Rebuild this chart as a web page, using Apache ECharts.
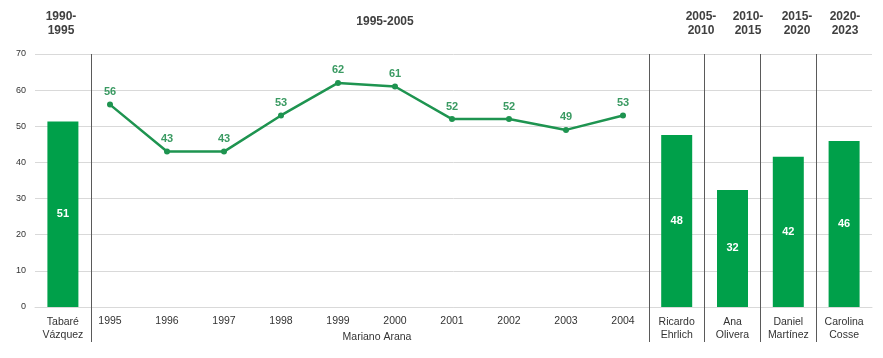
<!DOCTYPE html>
<html>
<head>
<meta charset="utf-8">
<script src="https://cdn.jsdelivr.net/npm/echarts@6/dist/echarts.min.js"></script>
<style>html,body{margin:0;padding:0;background:#fff}#c{width:883px;height:358px}</style>
</head>
<body>
<div id="c"></div>
<script>
// ---- data ----
const barCategories = ['Tabaré\nVázquez','1995','1996','1997','1998','1999','2000','2001','2002','2003','2004','Ricardo\nEhrlich','Ana\nOlivera','Daniel\nMartínez','Carolina\nCosse'];
const barValues = [51.3,'-','-','-','-','-','-','-','-','-','-',47.6,32.4,41.6,45.9];
const lineYears = ['1995','1996','1997','1998','1999','2000','2001','2002','2003','2004'];
const lineValues = [56,43,43,53,62,61,52,52,49,53];
const periodLabels = ['1990-\n1995','1995-2005','2005-\n2010','2010-\n2015','2015-\n2020','2020-\n2023'];
const middleName = 'Mariano Arana';
const yTicks = [0,10,20,30,40,50,60,70];

const FONT = '"Liberation Sans", Arial, sans-serif';
// separator axis covers all but the last bar slot; its closing boundary is the last separator
const sepCategories = barCategories.slice(0, barCategories.length - 1);
const sepIdx = [1,11,12,13];
const sepFn = (i) => sepIdx.indexOf(i) >= 0;
const band = (883 - 35 - 11) / barCategories.length;

const chart = echarts.init(document.getElementById('c'), null, {renderer:'canvas'});
const titleStyle = {fontFamily: FONT, fontWeight:'bold', fontSize:12, color:'#404040', lineHeight:14};
const periodPos = [56, 380, 696, 743, 792, 840];
chart.setOption({
  animation:false,
  title: periodLabels.map((t,i)=>({
    text:t, left:periodPos[i], top: (i===1? 10 : 5), textAlign:'center',
    textStyle: titleStyle
  })).concat([{text: middleName, left:372, top:327, textAlign:'center',
    textStyle:{fontFamily:FONT, fontWeight:'normal', fontSize:10.5, color:'#333'}}]),
  grid:[
    {left:35, right:11, top:54, bottom:51},
    {left:110, right:260, top:54, bottom:51},
    {left:35, width: band * sepCategories.length, top:54, bottom:51}
  ],
  xAxis:[
    {type:'category', gridIndex:0, data:barCategories,
     axisLine:{lineStyle:{color:'#d9d9d9'}},
     axisTick:{show:false},
     splitLine:{show:false},
     axisLabel:{interval:0, margin:9, fontFamily:FONT, fontSize:10.5, color:'#333', lineHeight:13,
       formatter:(v)=> /^\d{4}$/.test(v) ? '' : v}
    },
    {type:'category', gridIndex:1, data:lineYears, boundaryGap:false,
     axisLine:{show:false}, axisTick:{show:false}, splitLine:{show:false},
     axisLabel:{interval:0, margin:9, fontFamily:FONT, fontSize:10.5, color:'#333'}
    },
    {type:'category', gridIndex:2, data:sepCategories,
     axisLine:{show:false},
     axisLabel:{show:false},
     axisTick:{show:true, interval:sepFn, length:35, lineStyle:{color:'#5a5a5a'}},
     splitLine:{show:true, interval:sepFn, lineStyle:{color:'#5a5a5a', width:1}}
    }
  ],
  yAxis:[
    {type:'value', gridIndex:0, min:yTicks[0], max:yTicks[yTicks.length-1], interval:10,
     axisLine:{show:false}, axisTick:{show:false},
     splitLine:{lineStyle:{color:'#d9d9d9'}},
     axisLabel:{fontFamily:FONT, fontSize:9, color:'#333', margin:9}
    },
    {type:'value', gridIndex:1, min:0, max:70, interval:10, show:false},
    {type:'value', gridIndex:2, min:0, max:70, interval:10, show:false}
  ],
  series:[
    {type:'bar', xAxisIndex:0, yAxisIndex:0, data:barValues, barWidth:31,
     itemStyle:{color:'#00A04A'},
     label:{show:true, position:'inside', color:'#fff', fontFamily:FONT, fontWeight:'bold', fontSize:11,
       formatter:(p)=> Math.round(p.value)}
    },
    {type:'line', xAxisIndex:1, yAxisIndex:1, data:lineValues,
     symbol:'circle', symbolSize:6,
     lineStyle:{color:'#1E9450', width:2.5},
     itemStyle:{color:'#1E9450'},
     label:{show:true, position:'top', distance:4, color:'#3A9A62', fontFamily:FONT, fontWeight:'bold', fontSize:11}
    }
  ]
});
</script>
</body>
</html>
